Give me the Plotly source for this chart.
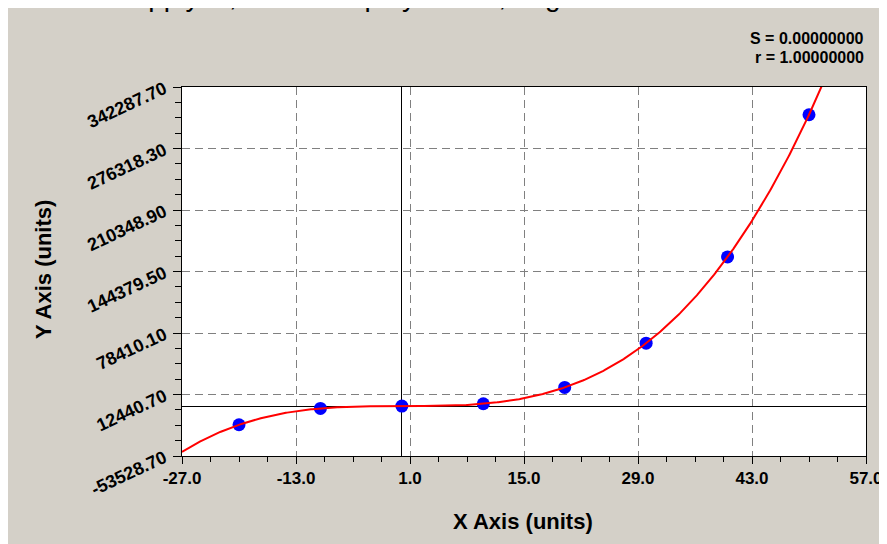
import numpy as np
import plotly.graph_objects as go

# ---- data ----
x_points = [-20, -10, 0, 10, 20, 30, 40, 50]
y_points = [-20000, -2500, 0, 2500, 20000, 67500, 160000, 312500]

x_tick_vals = [-27.0, -13.0, 1.0, 15.0, 29.0, 43.0, 57.0]
x_tick_text = ["-27.0", "-13.0", "1.0", "15.0", "29.0", "43.0", "57.0"]
y_tick_vals = [-53528.70, 12440.70, 78410.10, 144379.50, 210348.90, 276318.30, 342287.70]
y_tick_text = ["-53528.70", "12440.70", "78410.10", "144379.50", "210348.90", "276318.30", "342287.70"]

stat_lines = ["S = 0.00000000", "r = 1.00000000"]
title_text = "Scale = Supply fit, the cubic polynomial, degree 3"

# ---- cubic fit curve ----
coef = np.polyfit(x_points, y_points, 3)
xc = np.linspace(x_tick_vals[0], x_tick_vals[-1], 600)
yc = np.polyval(coef, xc)

W, H = 887, 544
ML, MR, MT, MB = 174, 29, 79, 96
PW, PH = W - ML - MR, H - MT - MB

def px_to_paper_x(px):
    return (px - ML) / PW

def py_to_paper_y(py):
    return (H - MB - py) / PH

fig = go.Figure()
fig.add_trace(go.Scatter(x=x_points, y=y_points, mode="markers",
                         marker=dict(color="#0000ff", size=13, line=dict(width=0)),
                         showlegend=False))
fig.add_trace(go.Scatter(x=xc, y=yc, mode="lines",
                         line=dict(color="#ff0000", width=2),
                         showlegend=False))

font_main = "Liberation Sans, Arial, Helvetica, sans-serif"

fig.update_layout(
    width=W, height=H,
    margin=dict(l=ML, r=MR, t=MT, b=MB, pad=0),
    paper_bgcolor="#d4d0c8",
    plot_bgcolor="#ffffff",
    font=dict(family=font_main, color="#000000"),
    showlegend=False,
)

fig.update_xaxes(
    range=[x_tick_vals[0], x_tick_vals[-1]],
    tickmode="array", tickvals=x_tick_vals, ticktext=x_tick_text,
    tickfont=dict(size=17, family=font_main, weight="bold"),
    ticks="outside", ticklen=7, tickwidth=1, tickcolor="#000000",
    showline=True, linecolor="#000000", linewidth=1, mirror=True,
    showgrid=True, gridcolor="#808080", gridwidth=1, griddash="8px,5px",
    zeroline=True, zerolinecolor="#000000", zerolinewidth=1,
    minor=dict(tickmode="linear", tick0=x_tick_vals[0], dtick=3.5,
               ticks="outside", ticklen=5, tickcolor="#000000", showgrid=False),
    fixedrange=True,
)
fig.update_yaxes(
    range=[y_tick_vals[0], y_tick_vals[-1]],
    tickmode="array", tickvals=y_tick_vals, ticktext=y_tick_text,
    tickfont=dict(size=18, family=font_main, weight="bold"),
    tickangle=-25,
    ticklabelstandoff=5,
    ticks="outside", ticklen=8, tickwidth=1, tickcolor="#000000",
    showline=True, linecolor="#000000", linewidth=1, mirror=True,
    showgrid=True, gridcolor="#808080", gridwidth=1, griddash="8px,5px",
    zeroline=True, zerolinecolor="#000000", zerolinewidth=1,
    minor=dict(tickmode="linear", tick0=y_tick_vals[0], dtick=(y_tick_vals[1] - y_tick_vals[0]) / 4,
               ticks="outside", ticklen=6, tickcolor="#000000", showgrid=False),
    fixedrange=True,
)

annotations = [
    dict(text=title_text, xref="paper", yref="paper", x=px_to_paper_x(2), y=py_to_paper_y(6),
         xanchor="left", yanchor="bottom", showarrow=False,
         font=dict(size=28, family=font_main, color="#000000")),
    dict(text="<b>" + stat_lines[0] + "</b>", xref="paper", yref="paper",
         x=px_to_paper_x(858), y=py_to_paper_y(30), xanchor="right", yanchor="middle",
         showarrow=False, font=dict(size=16, family=font_main)),
    dict(text="<b>" + stat_lines[1] + "</b>", xref="paper", yref="paper",
         x=px_to_paper_x(858), y=py_to_paper_y(50), xanchor="right", yanchor="middle",
         showarrow=False, font=dict(size=16, family=font_main)),
    dict(text="<b>X Axis (units)</b>", xref="paper", yref="paper",
         x=px_to_paper_x(515), y=py_to_paper_y(513), xanchor="center", yanchor="middle",
         showarrow=False, font=dict(size=22, family=font_main)),
    dict(text="<b>Y Axis (units)</b>", xref="paper", yref="paper",
         x=px_to_paper_x(35), y=py_to_paper_y(262), xanchor="center", yanchor="middle",
         textangle=-90, showarrow=False, font=dict(size=22, family=font_main)),
]
fig.update_layout(annotations=annotations)

fig.write_html("out.html")
